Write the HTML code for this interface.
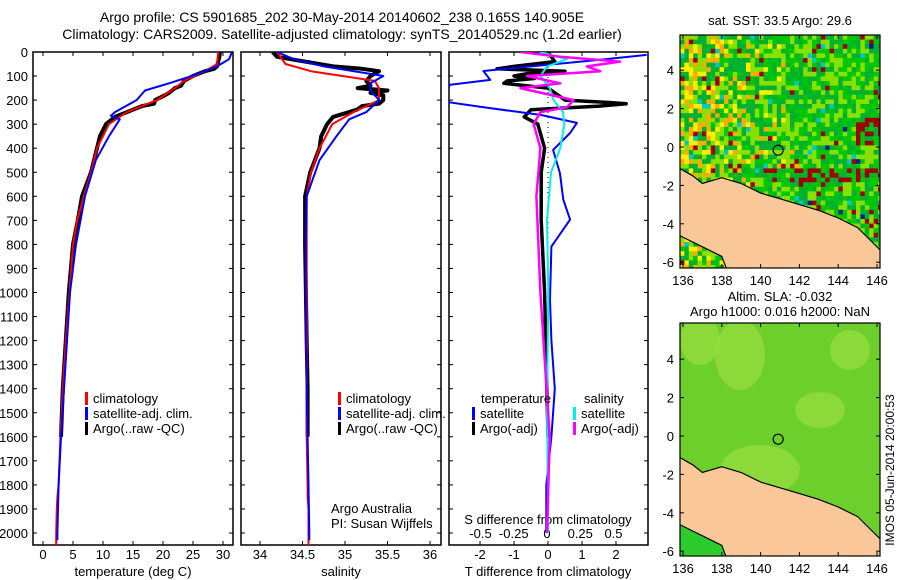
<!DOCTYPE html>
<html><head><meta charset="utf-8">
<style>
body{margin:0;background:#fff;}
svg{display:block;font-family:"Liberation Sans",sans-serif;}
text{font-size:13px;fill:#000;}
</style></head>
<body>
<svg id="fig" width="900" height="580" xmlns="http://www.w3.org/2000/svg">
<g id="titles">
<text x="342" y="22" text-anchor="middle" font-size="14" style="font-size:14px">Argo profile: CS 5901685_202 30-May-2014 20140602_238 0.165S 140.905E</text>
<text x="342" y="39" text-anchor="middle" style="font-size:14px">Climatology: CARS2009. Satellite-adjusted climatology: synTS_20140529.nc (1.2d earlier)</text>
<text x="780" y="25" text-anchor="middle">sat. SST: 33.5 Argo: 29.6</text>
<text x="780" y="301" text-anchor="middle">Altim. SLA: -0.032</text>
<text x="780" y="316" text-anchor="middle">Argo h1000: 0.016 h2000: NaN</text>
<text transform="translate(894,470) rotate(-90)" text-anchor="middle" style="font-size:12px">IMOS 05-Jun-2014 20:00:53</text>
</g>
</svg>
<script>
// ---- data ----
const depthTicks=[0,100,200,300,400,500,600,700,800,900,1000,1100,1200,1300,1400,1500,1600,1700,1800,1900,2000];
const tempTicks=[0,5,10,15,20,25,30];
const salTicks=[34,34.5,35,35.5,36];
const tdiffTicks=[-2,-1,0,1,2];
const sdiffTicks=[-0.5,-0.25,0,0.25,0.5];
const sdiffLabels=["-0.5","-0.25","0","0.25","0.5"];

const climDepth=[0,50,80,120,150,200,250,300,400,500,600,700,800,900,1000,1200,1400,1600,1800,1850,1900,2000,2060];
const climTemp=[29.2,29,27,23.5,22,19,14,11,9,8,6.8,5.7,5,4.7,4.4,3.8,3.3,2.9,2.6,2.4,2.3,2.2,2.2];
const climSal=[34.2,34.3,34.6,35.35,35.4,35.4,35.1,34.85,34.7,34.6,34.55,34.55,34.55,34.55,34.55,34.55,34.55,34.55,34.56,34.56,34.57,34.57,34.57];

const satDepth=[0,30,60,100,130,160,200,250,265,280,350,450,600,800,1000,1200,1400,1600,1800,2000,2030];
const satTemp=[31.5,31,29,24.8,21,17,15.6,12,11.3,12.8,11,8.8,7,5.5,4.5,4,3.5,3,2.6,2.4,2.4];
const satSal=[34.2,34.4,34.75,35.45,35.3,35.3,35.4,35.25,35.15,35.05,34.9,34.7,34.55,34.54,34.54,34.54,34.55,34.56,34.57,34.58,34.58];

const argoDepth=[0,20,60,70,80,100,120,140,150,160,170,180,200,215,225,240,270,300,350,400,500,600,700,800,1000,1200,1400,1600];
const argoTemp=[29.5,29.4,29,28.5,27,25,23.5,23,22,21.5,21,20.3,18.7,18.5,16.5,15,12,10.5,9.5,9,8,6.5,5.8,5,4.3,3.8,3.3,3];
const argoSal=[34.15,34.2,34.86,35.2,35.4,35.3,35.25,35.3,35.15,35.5,35.3,35.45,35.45,35.4,35.2,35.14,34.86,34.79,34.72,34.7,34.59,34.53,34.53,34.53,34.54,34.55,34.56,34.56];

const tdSatDepth=[12,33,79,116,137,207,228,262,295,337,407,503,614,697,809,1029,1200,1400,1600,1800,2000];
const tdSat=[2.9,1.5,-1.9,-1.7,-2.9,-3,-2,-0.2,0.85,0.65,0.15,0.35,0.45,0.65,0.1,0.06,0.1,0.2,0.1,-0.05,-0.05];
const tdArgoDepth=[0,40,60,70,80,90,100,110,120,130,150,200,210,215,225,240,270,300,400,500,700,1000,1300,1600];
const tdArgo=[0,0.2,-1,-1.5,0.5,-0.6,-1,-0.4,-1.2,-1.3,0,0.5,1.8,2.3,1.5,-0.5,-0.7,-0.3,-0.1,-0.2,-0.2,-0.1,-0.05,0];
const sdSatDepth=[0,30,60,100,150,200,250,300,400,500,700,1000,1500,2000];
const sdSat=[-0.05,0.15,0,-0.05,0.02,0.05,0.12,0.13,0.1,0.03,0,0.01,0,0.01];
const sdArgoDepth=[0,20,40,60,80,100,130,150,200,230,250,300,400,600,1000,1600,2000];
const sdArgo=[-0.2,0.1,0.55,0.3,0.4,-0.15,0.1,-0.2,0.2,0.15,-0.05,-0.1,-0.05,-0.08,-0.05,0.02,0];

// ---- helpers ----
const svg=document.getElementById('fig');
const NS='http://www.w3.org/2000/svg';
function mk(tag,attrs,parent){const e=document.createElementNS(NS,tag);for(const k in attrs)e.setAttribute(k,attrs[k]);(parent||svg).appendChild(e);return e;}
const TOP=52,BOT=545;
const yD=d=>TOP+d*0.2405;
const xT=t=>43+6*t;
const xS=s=>260+85*(s-34);
const xTD=t=>548+34*t;
const xSD=s=>547+133*s;
const panels=[[33,233],[241,441],[449,648]];

function line(xs,ds,fx,color,w,name,dash){
  const pts=xs.map((v,i)=>fx(v).toFixed(1)+','+yD(ds[i]).toFixed(1)).join(' ');
  const p=mk('polyline',{points:pts,fill:'none',stroke:color,'stroke-width':w,'stroke-linejoin':'round'});
  if(dash)p.setAttribute('stroke-dasharray',dash);
  
  
  return p;
}
// clip
const defs=mk('defs',{});
panels.forEach((p,i)=>{const c=mk('clipPath',{id:'clip'+i},defs);mk('rect',{x:p[0],y:TOP,width:p[1]-p[0],height:BOT-TOP},c);});

// frames and ticks
panels.forEach((p,i)=>{
  const r=mk('rect',{x:p[0],y:TOP,width:p[1]-p[0],height:BOT-TOP,fill:'none',stroke:'#000','stroke-width':1.5});
  
  
  depthTicks.forEach(d=>{mk('line',{x1:p[0],x2:p[0]+4,y1:yD(d),y2:yD(d),stroke:'#000'});mk('line',{x1:p[1]-4,x2:p[1],y1:yD(d),y2:yD(d),stroke:'#000'});});
});
depthTicks.forEach(d=>{const t=mk('text',{x:28,y:yD(d)+5,'text-anchor':'end'});t.textContent=d;
  
  });
function xticks(ticks,labels,fx,p,ty){
  ticks.forEach((v,i)=>{const x=fx(v);mk('line',{x1:x,x2:x,y1:BOT-4,y2:BOT,stroke:'#000'});mk('line',{x1:x,x2:x,y1:TOP,y2:TOP+4,stroke:'#000'});
    const t=mk('text',{x:x,y:ty,'text-anchor':'middle'});t.textContent=labels[i];
    
    });
}
xticks(tempTicks,tempTicks,xT,panels[0],559);
xticks(salTicks,salTicks,xS,panels[1],559);
xticks(tdiffTicks,tdiffTicks,xTD,panels[2],559);
sdiffTicks.forEach((v,i)=>{const t=mk('text',{x:xSD(v),y:538,'text-anchor':'middle'});t.textContent=sdiffLabels[i];
  
  });
[['temperature (deg C)',133],['salinity',341],['T difference from climatology',548]].forEach(a=>{const t=mk('text',{x:a[1],y:576,'text-anchor':'middle'});t.textContent=a[0];
  
  });
{const t=mk('text',{x:548,y:524,'text-anchor':'middle'});t.textContent='S difference from climatology';
 
 }

// series
const g0=mk('g',{'clip-path':'url(#clip0)'}),g1=mk('g',{'clip-path':'url(#clip1)'}),g2=mk('g',{'clip-path':'url(#clip2)'});
g1.appendChild(line(argoSal,argoDepth,xS,'#000',4,'argo-salinity'));
g1.appendChild(line(climSal,climDepth,xS,'#f00',2,'clim-salinity'));
g1.appendChild(line(satSal,satDepth,xS,'#00f',2,'sat-salinity'));
g0.appendChild(line(argoTemp,argoDepth,xT,'#000',4,'argo-temperature'));
g0.appendChild(line(climTemp,climDepth,xT,'#f00',2,'clim-temperature'));
g0.appendChild(line(satTemp,satDepth,xT,'#00f',2,'sat-temperature'));
mk('line',{x1:548,x2:548,y1:TOP,y2:BOT,stroke:'#000','stroke-dasharray':'1,4'},g2);
g2.appendChild(line(tdArgo,tdArgoDepth,xTD,'#000',3.5,'argo-t-diff'));
g2.appendChild(line(tdSat,tdSatDepth,xTD,'#00f',2,'sat-t-diff'));
g2.appendChild(line(sdSat,sdSatDepth,xSD,'#0ee',2,'sat-s-diff'));
g2.appendChild(line(sdArgo,sdArgoDepth,xSD,'#f0f',2.5,'argo-s-diff'));

// legends
function leg(x,y,color,label){mk('rect',{x:x,y:y-11,width:3,height:13,fill:color});const t=mk('text',{x:x+8,y:y});t.textContent=label;
  
  }
leg(85,403,'#f00','climatology');leg(85,418,'#00f','satellite-adj. clim.');leg(85,433,'#000','Argo(..raw -QC)');
leg(338,403,'#f00','climatology');leg(338,418,'#00f','satellite-adj. clim.');leg(338,433,'#000','Argo(..raw -QC)');
{const t=mk('text',{x:481,y:403});t.textContent='temperature';}
{const t=mk('text',{x:584,y:403});t.textContent='salinity';}
leg(472,418,'#00f','satellite');leg(472,433,'#000','Argo(-adj)');
leg(573,418,'#0ee','satellite');leg(573,433,'#f0f','Argo(-adj)');
{const t=mk('text',{x:331,y:513});t.textContent='Argo Australia';}
{const t=mk('text',{x:331,y:528});t.textContent='PI: Susan Wijffels';}

// ---- maps ----
const lonTicks=[136,138,140,142,144,146];
const latTicks=[4,2,0,-2,-4,-6];
function hash(i,j,s){let h=(i*374761393+j*668265263+s*982451653)|0;h=(h^(h>>>13))*1274126177|0;return ((h^(h>>>16))>>>0)/4294967296;}
const coast=[[135.8,-1.1],[136.5,-1.5],[137,-1.9],[138,-1.6],[139,-1.9],[140,-2.4],[141,-2.7],[142,-3],[143,-3.3],[144,-3.7],[145,-4.2],[145.8,-5],[146.2,-5.4],[146.2,-6.5],[138.3,-6.5],[138,-5.7],[137,-5.2],[135.8,-4.6]];
function drawMap(fx,fy,ox,ty,by,kind){
  const g=mk('g',{});
  
  
  const cid='cm'+kind;const c=mk('clipPath',{id:cid},defs);mk('rect',{x:680,y:ty,width:200,height:by-ty},c);
  const gc=mk('g',{'clip-path':'url(#'+cid+')'},g);
  if(kind==='sst'){
    const cw=4.4,ch=4.6;
    for(let i=0;i<46;i++)for(let j=0;j<52;j++){
      const r=hash(i,j,1),x=i/46,y=j/52;
      let col;
      const warm=Math.max(0,0.6-x)*(y<0.6?1.4:0.6);
      if(r<0.04)col='#a00000';else if(r<0.06)col='#00c8c8';else if(r<0.07&&x>0.5)col='#002090';
      else if(r<0.07+warm*0.5)col=(r<0.07+warm*0.25?'#ffaa00':'#ffee00');
      else if(r<0.4+warm*0.4)col='#88e000';else if(r<0.7)col='#00c800';else col='#00b030';
      if(x>0.85&&y>0.33&&y<0.45&&r<0.5)col='#a00000';
      if(y>0.55&&y<0.6&&x>0.4&&r<0.4)col='#a00000';
      mk('rect',{x:680+i*cw,y:ty+j*ch,width:cw+0.3,height:ch+0.3,fill:col},gc);
    }
  } else {
    mk('rect',{x:680,y:ty,width:200,height:by-ty,fill:'#6ccf2c'},gc);
    [[740,355,25,35],[700,340,20,25],[820,410,25,18],[760,470,40,25],[850,350,20,20]].forEach(b=>mk('ellipse',{cx:b[0],cy:b[1],rx:b[2],ry:b[3],fill:'#9add40',opacity:0.7},gc));
    mk('rect',{x:680,y:505,width:45,height:50,fill:'#2ccc2c'},gc);
  }
  const pts=coast.map(p=>fx(p[0]).toFixed(1)+','+fy(p[1]).toFixed(1)).join(' ');
  const land=mk('polygon',{points:pts,fill:'#fac898',stroke:'#000','stroke-width':1.2},gc);
  
  
  mk('circle',{cx:fx(140.905),cy:fy(-0.165),r:5,fill:'none',stroke:'#000','stroke-width':1.2},g);
  mk('rect',{x:680,y:ty,width:200,height:by-ty,fill:'none',stroke:'#000','stroke-width':1.2},g);
  lonTicks.forEach(l=>{const x=fx(l);mk('line',{x1:x,x2:x,y1:by,y2:by-4,stroke:'#000'},g);mk('line',{x1:x,x2:x,y1:ty,y2:ty+4,stroke:'#000'},g);
    const t=mk('text',{x:x,y:by+17,'text-anchor':'middle'},g);t.textContent=l;
    
    });
  latTicks.forEach(l=>{const y=fy(l);mk('line',{x1:680,x2:684,y1:y,y2:y,stroke:'#000'},g);mk('line',{x1:876,x2:880,y1:y,y2:y,stroke:'#000'},g);
    const t=mk('text',{x:674,y:y+5,'text-anchor':'end'},g);t.textContent=l;
    
    });
}
drawMap(l=>683+19.4*(l-136),la=>147-19.2*la,0,35,268,'sst');
drawMap(l=>683+19.4*(l-136),la=>436-19.2*la,0,323,556,'sla');
</script>
</body></html>
